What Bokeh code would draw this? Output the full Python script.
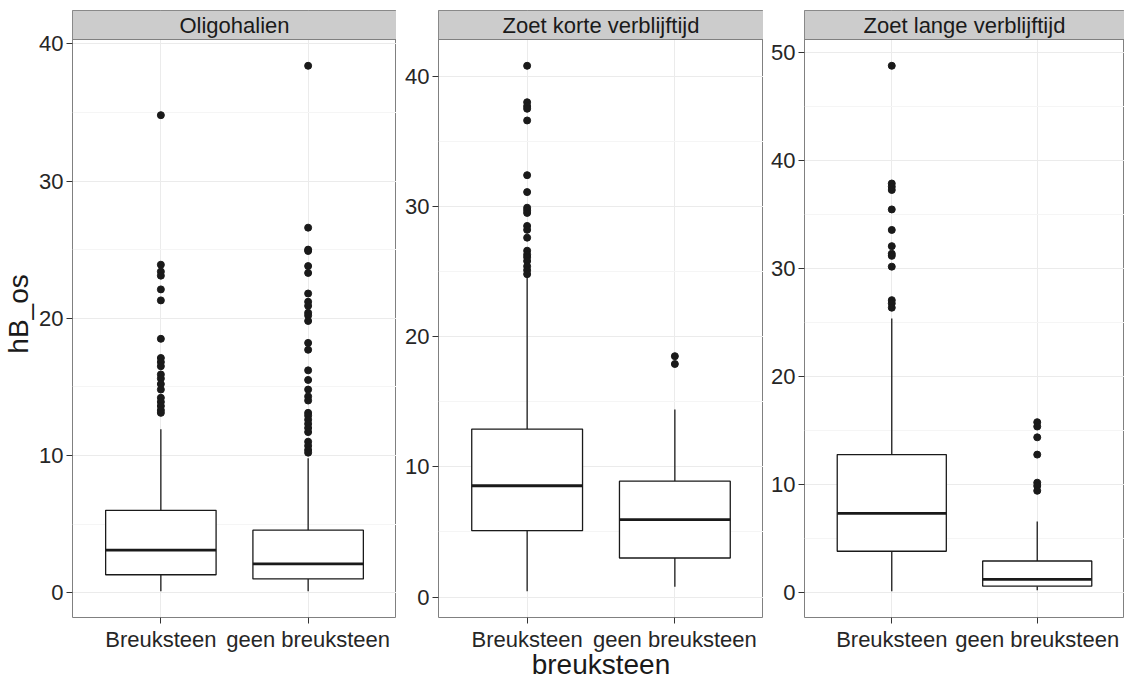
import numpy as np
from bokeh.plotting import figure
from bokeh.layouts import row
from bokeh.models import Range1d, FixedTicker
from bokeh.core.properties import value
from bokeh.embed import file_html
from bokeh.resources import INLINE

# ---------------- data ----------------
categories = ["Breuksteen", "geen breuksteen"]
panel_titles = ["Oligohalien", "Zoet korte verblijftijd", "Zoet lange verblijftijd"]
y_label = "hB_os"
x_label = "breuksteen"

# Oligohalien  [Breuksteen, geen breuksteen]
olig_lower = [0.1, 0.1]
olig_q1 = [1.3, 1.0]
olig_median = [3.1, 2.1]
olig_q3 = [6.0, 4.55]
olig_upper = [11.9, 9.8]
olig_out_breuksteen = [34.8, 23.9, 23.4, 23.1, 22.1, 21.3, 18.5, 17.1, 16.8, 16.5,
                       15.9, 15.6, 15.2, 14.8, 14.2, 13.9, 13.6, 13.3, 13.1]
olig_out_geen = [38.4, 26.6, 25.0, 24.9, 23.8, 23.3, 21.8, 21.2, 20.9, 20.4, 20.2,
                 19.8, 18.2, 17.7, 16.2, 15.5, 14.8, 14.3, 14.0, 13.1, 12.9, 12.6,
                 12.3, 12.0, 11.7, 11.0, 10.7, 10.4, 10.2]
olig_yticks = [0, 10, 20, 30, 40]

# Zoet korte verblijftijd
kort_lower = [0.45, 0.8]
kort_q1 = [5.1, 3.0]
kort_median = [8.55, 5.95]
kort_q3 = [12.9, 8.9]
kort_upper = [24.7, 14.4]
kort_out_breuksteen = [40.8, 38.0, 37.7, 37.5, 36.6, 32.4, 31.1, 29.9, 29.7, 29.5,
                       28.5, 28.2, 27.6, 26.6, 26.3, 26.1, 25.8, 25.4, 25.1, 24.8]
kort_out_geen = [18.5, 17.9]
kort_yticks = [0, 10, 20, 30, 40]

# Zoet lange verblijftijd
lang_lower = [0.15, 0.25]
lang_q1 = [3.85, 0.62]
lang_median = [7.35, 1.25]
lang_q3 = [12.8, 2.95]
lang_upper = [25.4, 6.6]
lang_out_breuksteen = [48.8, 37.9, 37.6, 37.3, 35.5, 33.6, 32.1, 31.4, 31.2, 30.2,
                       27.1, 26.8, 26.4]
lang_out_geen = [15.8, 15.4, 14.4, 12.8, 10.2, 9.9, 9.45]
lang_yticks = [0, 10, 20, 30, 40, 50]

# ---------------- styling ----------------
FONT = "Liberation Sans"
TXT = "#1A1A1A"
STRIP_PX = 29
FRAME_H = 607
PANEL_PX = FRAME_H - STRIP_PX
BOX_W = 0.75


def make_panel(title, lower, q1, med, q3, upper, outliers, yticks,
               frame_w, left_border, right_border, ylab=None, xlab=None):
    xs = np.arange(1, len(categories) + 1, dtype=float)
    all_vals = list(lower) + list(upper) + [v for o in outliers for v in o]
    dmin, dmax = min(all_vals), max(all_vals)
    span = dmax - dmin
    ylo = dmin - 0.05 * span
    yhi = dmax + 0.05 * span
    ytop = yhi + (yhi - ylo) * STRIP_PX / PANEL_PX
    xlo, xhi = 1 - 0.6, len(categories) + 0.6

    p = figure(frame_width=frame_w, frame_height=FRAME_H,
               x_range=Range1d(xlo, xhi), y_range=Range1d(ylo, ytop),
               output_backend="svg", toolbar_location=None, title=None,
               min_border_left=left_border, min_border_right=right_border,
               min_border_top=10, min_border_bottom=0)
    p.background_fill_color = "white"
    p.border_fill_color = "white"
    p.outline_line_color = "#808080"
    p.outline_line_width = 1

    # grids
    minor = [(a + b) / 2 for a, b in zip(yticks[:-1], yticks[1:])]
    yt = FixedTicker(ticks=yticks, minor_ticks=minor)
    xt = FixedTicker(ticks=list(xs))
    p.yaxis.ticker = yt
    p.ygrid.ticker = yt
    p.xaxis.ticker = xt
    p.xgrid.ticker = xt
    p.ygrid.grid_line_color = "#EBEBEB"
    p.ygrid.minor_grid_line_color = "#F5F5F5"
    p.xgrid.grid_line_color = "#EBEBEB"
    p.xaxis.major_label_overrides = {int(x): c for x, c in zip(xs, categories)}

    for ax in (p.xaxis[0], p.yaxis[0]):
        ax.axis_line_color = None
        ax.major_tick_line_color = "#333333"
        ax.major_tick_out = 6
        ax.major_tick_in = 0
        ax.minor_tick_line_color = None
        ax.major_label_text_font = FONT
        ax.major_label_text_font_size = "22px"
        ax.major_label_text_color = "#262626"
        ax.major_label_standoff = 3
        ax.axis_label_text_font = FONT
        ax.axis_label_text_font_size = "28px"
        ax.axis_label_text_font_style = "normal"
        ax.axis_label_text_color = TXT
    p.xaxis.axis_label_standoff = -6
    p.yaxis.axis_label_standoff = 2
    if ylab:
        p.yaxis.axis_label = ylab
    if xlab:
        p.xaxis.axis_label = xlab

    # whiskers
    p.segment(x0=xs, y0=q3, x1=xs, y1=upper, line_color=TXT, line_width=1.3)
    p.segment(x0=xs, y0=lower, x1=xs, y1=q1, line_color=TXT, line_width=1.3)
    # boxes
    p.vbar(x=xs, width=BOX_W, bottom=q1, top=q3, fill_color="white",
           line_color=TXT, line_width=1.3)
    # medians
    p.segment(x0=xs - BOX_W / 2, y0=med, x1=xs + BOX_W / 2, y1=med,
              line_color=TXT, line_width=2.8)
    # outliers
    ox = [xs[i] for i, o in enumerate(outliers) for _ in o]
    oy = [v for o in outliers for v in o]
    p.scatter(x=ox, y=oy, size=7, color=TXT)

    # facet strip
    p.quad(left=[xlo], right=[xhi], bottom=[yhi], top=[ytop],
           fill_color="#CCCCCC", line_color="#808080", line_width=1)
    p.text(x=[(xlo + xhi) / 2], y=[(yhi + ytop) / 2], text=[title],
           text_font=value(FONT), text_font_size="22px", text_color=TXT,
           text_align="center", text_baseline="middle")
    return p


p1 = make_panel(panel_titles[0], olig_lower, olig_q1, olig_median, olig_q3, olig_upper,
                [olig_out_breuksteen, olig_out_geen], olig_yticks,
                frame_w=324, left_border=70, right_border=0, ylab=y_label)
p2 = make_panel(panel_titles[1], kort_lower, kort_q1, kort_median, kort_q3, kort_upper,
                [kort_out_breuksteen, kort_out_geen], kort_yticks,
                frame_w=325, left_border=42, right_border=0, xlab=x_label)
p3 = make_panel(panel_titles[2], lang_lower, lang_q1, lang_median, lang_q3, lang_upper,
                [lang_out_breuksteen, lang_out_geen], lang_yticks,
                frame_w=320, left_border=41, right_border=0)

layout = row(p1, p2, p3, spacing=0)
open("out.html", "w").write(file_html(layout, INLINE))
